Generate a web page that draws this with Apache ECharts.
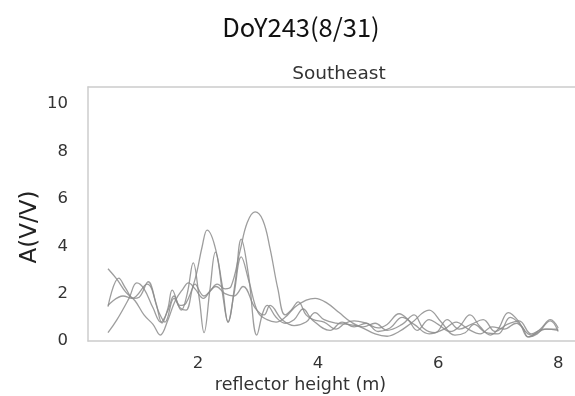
<!DOCTYPE html>
<html>
<head>
<meta charset="utf-8">
<script src="https://cdn.jsdelivr.net/npm/echarts@6/dist/echarts.min.js"></script>
<style>
  html, body { margin: 0; padding: 0; background: #fff; }
  #main { width: 575px; height: 396px; }
</style>
</head>
<body>
<div id="main"></div>
<script>
var titleText = 'DoY243(8/31)';
var panelName = 'Southeast';
var xName = 'reflector height (m)';
var yName = 'A(V/V)';
var xTicks = [2, 4, 6, 8];
var yTicks = [0, 2, 4, 6, 8, 10];

// [reflector height, amplitude]
var trace1 = [[0.5,3.05],[0.65,2.6],[0.8,2.05],[0.95,1.7],[1.1,1.1],[1.25,0.7],[1.37,0.25],[1.5,0.9],[1.62,1.7],[1.75,2.2],[1.84,2.45],[1.95,2.2],[2.09,1.8],[2.2,2.1],[2.32,2.4],[2.45,2.2],[2.55,2.3],[2.7,3.8],[2.82,5.0],[2.95,5.45],[3.08,5.1],[3.2,3.9],[3.33,2.2],[3.45,1.1],[3.55,1.3],[3.67,1.65],[3.8,1.1],[3.92,0.9],[4.1,0.8],[4.3,0.5],[4.45,0.75],[4.6,0.85],[4.8,0.75],[5.0,0.55],[5.15,0.7],[5.35,1.15],[5.5,0.9],[5.65,0.45],[5.85,0.9],[6.0,0.7],[6.2,0.4],[6.35,0.6],[6.53,1.1],[6.7,0.6],[6.87,0.25],[7.0,0.5],[7.17,1.2],[7.35,0.8],[7.5,0.17],[7.7,0.5],[7.87,0.9],[8.0,0.55]];
var trace2 = [[0.5,1.45],[0.68,2.65],[0.8,2.2],[0.92,1.8],[1.02,1.85],[1.17,2.5],[1.3,1.6],[1.4,0.76],[1.5,1.4],[1.57,2.15],[1.72,1.3],[1.82,2.0],[1.92,3.3],[2.02,1.8],[2.1,0.35],[2.2,2.2],[2.29,3.75],[2.4,2.4],[2.5,0.8],[2.62,2.5],[2.72,4.3],[2.84,2.8],[2.98,0.25],[3.08,1.2],[3.15,1.5],[3.3,1.0],[3.45,0.75],[3.6,0.9],[3.75,1.35],[3.9,0.9],[4.2,0.45],[4.4,0.8],[4.6,0.6],[4.8,0.75],[5.0,0.4],[5.2,0.55],[5.4,1.0],[5.6,0.7],[5.85,0.3],[6.1,0.5],[6.3,0.8],[6.5,0.5],[6.7,0.3],[6.9,0.6],[7.1,0.5],[7.3,0.75],[7.55,0.25],[7.8,0.5],[8.0,0.45]];
var trace3 = [[0.5,0.35],[0.65,0.9],[0.85,1.8],[0.98,2.45],[1.1,2.2],[1.25,1.4],[1.38,0.8],[1.5,1.3],[1.6,1.9],[1.7,1.5],[1.8,1.6],[1.95,2.6],[2.07,4.0],[2.15,4.68],[2.3,3.8],[2.42,1.8],[2.5,0.8],[2.6,2.0],[2.72,3.55],[2.85,2.5],[3.0,1.2],[3.15,0.9],[3.3,0.8],[3.45,1.0],[3.65,1.5],[3.95,1.8],[4.15,1.6],[4.35,1.2],[4.55,0.8],[4.75,0.6],[4.95,0.75],[5.15,0.45],[5.4,0.7],[5.6,1.1],[5.75,0.55],[5.95,0.35],[6.15,0.9],[6.35,0.5],[6.55,0.7],[6.75,0.9],[6.95,0.4],[7.15,0.7],[7.35,0.85],[7.55,0.3],[7.75,0.5],[8.0,0.5]];
var trace4 = [[0.5,1.5],[0.75,1.9],[0.9,1.8],[1.15,2.4],[1.35,1.2],[1.45,0.8],[1.6,1.8],[1.7,1.4],[1.8,1.3],[1.95,2.4],[2.1,1.9],[2.3,2.3],[2.45,2.0],[2.6,1.9],[2.75,2.3],[2.95,1.4],[3.1,1.1],[3.2,1.5],[3.4,0.9],[3.6,0.65],[3.8,0.8],[3.95,1.2],[4.1,0.9],[4.3,0.75],[4.5,0.7],[4.7,0.6],[4.95,0.3],[5.15,0.2],[5.35,0.4],[5.55,0.75],[5.85,1.3],[6.05,0.8],[6.28,0.25],[6.45,0.35],[6.6,0.7],[6.8,0.35],[7.0,0.3],[7.2,1.0],[7.4,0.6],[7.5,0.17],[7.65,0.3],[7.87,0.85],[8.0,0.4]];

var traces = [trace1, trace2, trace3, trace4];

var chart = echarts.init(document.getElementById('main'));

var series = traces.map(function (t) {
    return {
        type: 'line',
        data: t,
        smooth: 0.4,
        showSymbol: false,
        lineStyle: { color: '#8c8c8c', width: 1.3, opacity: 0.85 }
    };
});

var labelStyle = { color: '#333', fontSize: 16.5, fontFamily: 'DejaVu Sans' };
var frameLine = { show: true, lineStyle: { color: '#cccccc', width: 1.5 } };

option = {
    animation: false,
    title: [{
        text: titleText,
        left: 296,
        textAlign: 'center',
        top: 10,
        textStyle: { color: '#111', fontSize: 25.5, fontWeight: 'normal', fontFamily: 'Noto Sans CJK JP' }
    }, {
        text: panelName,
        left: 334,
        textAlign: 'center',
        top: 60,
        textStyle: { color: '#333', fontSize: 18.5, fontWeight: 'normal', fontFamily: 'DejaVu Sans' }
    }],
    grid: {
        left: 88, top: 87, right: 0, bottom: 55,
        outerBoundsMode: 'none',
        containLabel: false
    },
    xAxis: [{
        type: 'value',
        min: 0.167,
        max: 8.28,
        name: xName,
        nameLocation: 'middle',
        nameGap: 35,
        nameMoveOverlap: false,
        nameTextStyle: { color: '#333', fontSize: 17.5, fontFamily: 'DejaVu Sans', padding: [0, 62, 0, 0] },
        axisLine: frameLine,
        axisTick: { show: false },
        splitLine: { show: false },
        axisLabel: Object.assign({
            margin: 14,
            customValues: xTicks
        }, labelStyle)
    }, {
        type: 'value',
        position: 'top',
        min: 0.167,
        max: 8.28,
        axisLine: frameLine,
        axisTick: { show: false },
        axisLabel: { show: false },
        splitLine: { show: false }
    }],
    yAxis: {
        type: 'value',
        min: 0,
        max: 10.72,
        name: yName,
        nameLocation: 'middle',
        nameGap: 46,
        nameMoveOverlap: false,
        nameTextStyle: { color: '#222', fontSize: 23, fontFamily: 'DejaVu Sans', padding: [0, 26, 0, 0] },
        axisLine: frameLine,
        axisTick: { show: false },
        splitLine: { show: false },
        axisLabel: Object.assign({
            margin: 20,
            customValues: yTicks
        }, labelStyle)
    },
    series: series
};

chart.setOption(option);
window.addEventListener('resize', function () { chart.resize(); });
</script>
</body>
</html>
